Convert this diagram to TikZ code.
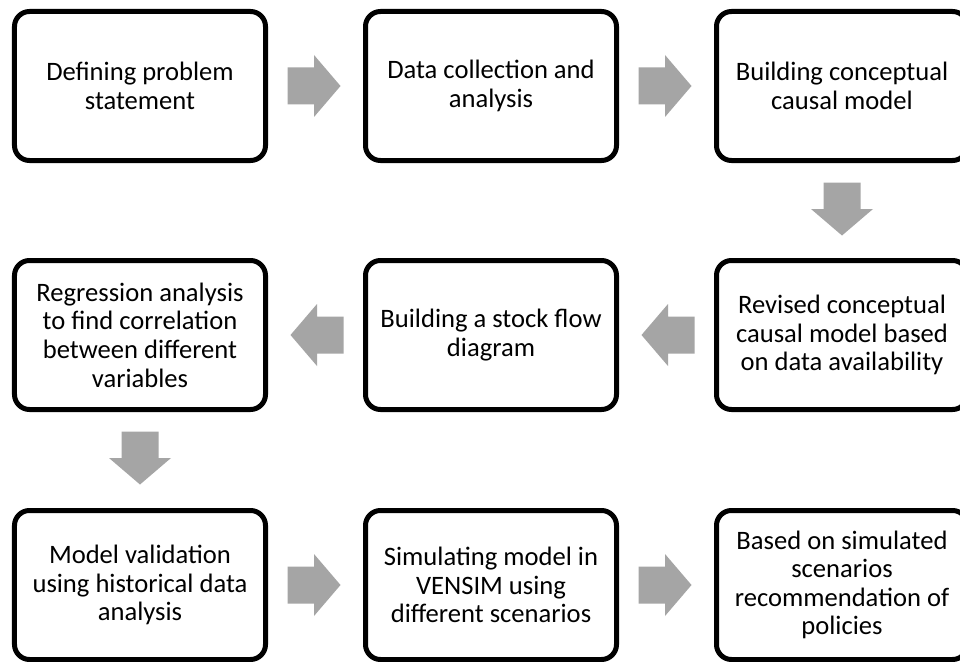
\documentclass[tikz,border=0pt]{standalone}
\usepackage{fontspec}
\setmainfont{Carlito}
\usetikzlibrary{calc}
\definecolor{arrowgray}{HTML}{A5A5A5}
\tikzset{
  stepbox/.style={draw=black, line width=5bp, rounded corners=15bp,
    minimum width=251bp, minimum height=149bp, inner sep=0pt,
    align=center, fill=white, font=\fontsize{26.6bp}{28.6bp}\selectfont},
  blockfill/.style={fill=arrowgray}
}
% Block arrow from one box anchor towards another box anchor
\newcommand{\blockarrow}[2]{%
  \path ($(#1)!19.5bp!(#2)$) coordinate (ba-s)
        ($(#1)!72.5bp!(#2)$) coordinate (ba-t);
  \path ($(ba-s)!26.5bp!(ba-t)$) coordinate (ba-m);
  \fill[blockfill] ($(ba-s)!18.5bp!90:(ba-t)$) -- ($(ba-m)!18.5bp!90:(ba-t)$)
     -- ($(ba-m)!31bp!90:(ba-t)$) -- (ba-t) -- ($(ba-m)!31bp!-90:(ba-t)$)
     -- ($(ba-m)!18.5bp!-90:(ba-t)$) -- ($(ba-s)!18.5bp!-90:(ba-t)$) -- cycle;}
\begin{document}
\begin{tikzpicture}[x=1bp,y=-1bp]
\useasboundingbox (0,0) rectangle (960,662);
\clip (0,0) rectangle (960,662);
\fill[white] (0,0) rectangle (960,662);

% process steps
\node[stepbox] (p1) at (140,86)  {Defining problem\\statement};
\node[stepbox] (p2) at (491,86)  {Data collection and\\analysis};
\node[stepbox] (p3) at (842,86)  {Building conceptual\\causal model};
\node[stepbox] (p4) at (842,335) {Revised conceptual\\causal model based\\on data availability};
\node[stepbox] (p5) at (491,335) {Building a stock flow\\diagram};
\node[stepbox] (p6) at (140,335) {Regression analysis\\to find correlation\\between different\\variables};
\node[stepbox] (p7) at (140,585) {Model validation\\using historical data\\analysis};
\node[stepbox] (p8) at (491,585) {Simulating model in\\VENSIM using\\different scenarios};
\node[stepbox] (p9) at (842,585) {Based on simulated\\scenarios\\recommendation of\\policies};

% flow arrows
\blockarrow{p1.east}{p2.west}
\blockarrow{p2.east}{p3.west}
\blockarrow{p3.south}{p4.north}
\blockarrow{p4.west}{p5.east}
\blockarrow{p5.west}{p6.east}
\blockarrow{p6.south}{p7.north}
\blockarrow{p7.east}{p8.west}
\blockarrow{p8.east}{p9.west}
\end{tikzpicture}
\end{document}
